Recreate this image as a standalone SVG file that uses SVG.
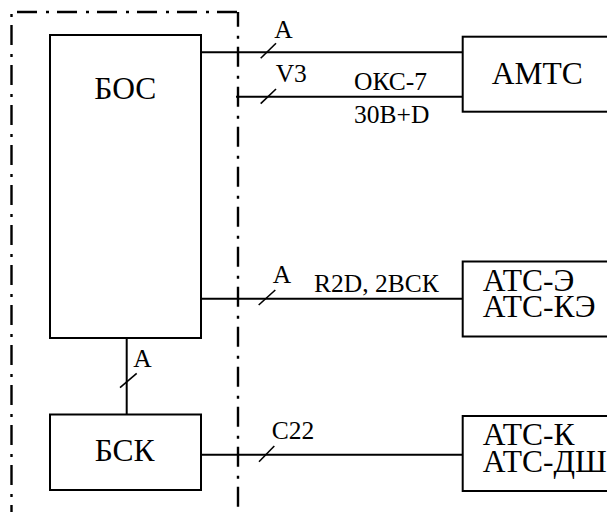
<svg xmlns="http://www.w3.org/2000/svg" width="607" height="512" viewBox="0 0 607 512">
<style>
.box{fill:#fff;stroke:#000;stroke-width:2}
.ln{stroke:#000;stroke-width:2;fill:none}
.tk{stroke:#000;stroke-width:1.6;fill:none}
.fr{stroke:#000;stroke-width:2.4;fill:none;stroke-dasharray:20 9 3 8}
.sm{font-family:"Liberation Serif","DejaVu Serif",serif;font-size:25.5px;fill:#000}
.big{font-family:"Liberation Serif","DejaVu Serif",serif;font-size:31.5px;fill:#000}
</style>
<rect width="607" height="512" fill="#fff"/>
<g id="frame">
<path class="fr" d="M17 12H238"/>
<path class="fr" d="M238 12V508" style="stroke-dashoffset:5.3"/>
<path class="fr" d="M11.5 14V512" style="stroke-dasharray:3 8 20 9"/>
</g>
<g id="connectors">
<path class="ln" d="M198 52.3H463"/>
<path class="ln" d="M236 96.7H463"/>
<path class="ln" d="M198 298.7H463"/>
<path class="ln" d="M126.7 337.7V414.5"/>
<path class="ln" d="M198 454.7H463"/>
<path class="tk" d="M260.7 58.3L276 43.3"/>
<path class="tk" d="M260.7 103.7L276 89"/>
<path class="tk" d="M258.7 305L275.3 290"/>
<path class="tk" d="M120 387.7L136.7 373.3"/>
<path class="tk" d="M259 461.7L274.3 446"/>
<text class="sm" x="274.3" y="38.3">A</text>
<text class="sm" x="275.7" y="81.7">V3</text>
<text class="sm" x="354" y="90">ОКС-7</text>
<text class="sm" x="354" y="122.7">30B+D</text>
<text class="sm" x="272.7" y="283.3">A</text>
<text class="sm" x="314" y="291.7">R2D, 2ВСК</text>
<text class="sm" x="133.3" y="366.7">A</text>
<text class="sm" x="271.7" y="439.3">C22</text>
</g>
<g id="bos">
<rect class="box" x="50" y="35" width="151" height="303"/>
<text class="big" x="125.3" y="99" text-anchor="middle">БОС</text>
</g>
<g id="bsk">
<rect class="box" x="50" y="414.5" width="151" height="75.5"/>
<text class="big" x="124.7" y="461" text-anchor="middle">БСК</text>
</g>
<g id="amts">
<rect class="box" x="462.7" y="36.7" width="160" height="75"/>
<text class="big" x="491.7" y="84">АМТС</text>
</g>
<g id="ats-e">
<rect class="box" x="462.7" y="261.5" width="160" height="75"/>
<text class="big" x="482.7" y="291">АТС-Э</text>
<text class="big" x="482.7" y="317.3">АТС-КЭ</text>
</g>
<g id="ats-k">
<rect class="box" x="462.7" y="416" width="160" height="75"/>
<text class="big" x="482.7" y="445">АТС-К</text>
<text class="big" x="482.7" y="471.5">АТС-ДШ</text>
</g>
</svg>
